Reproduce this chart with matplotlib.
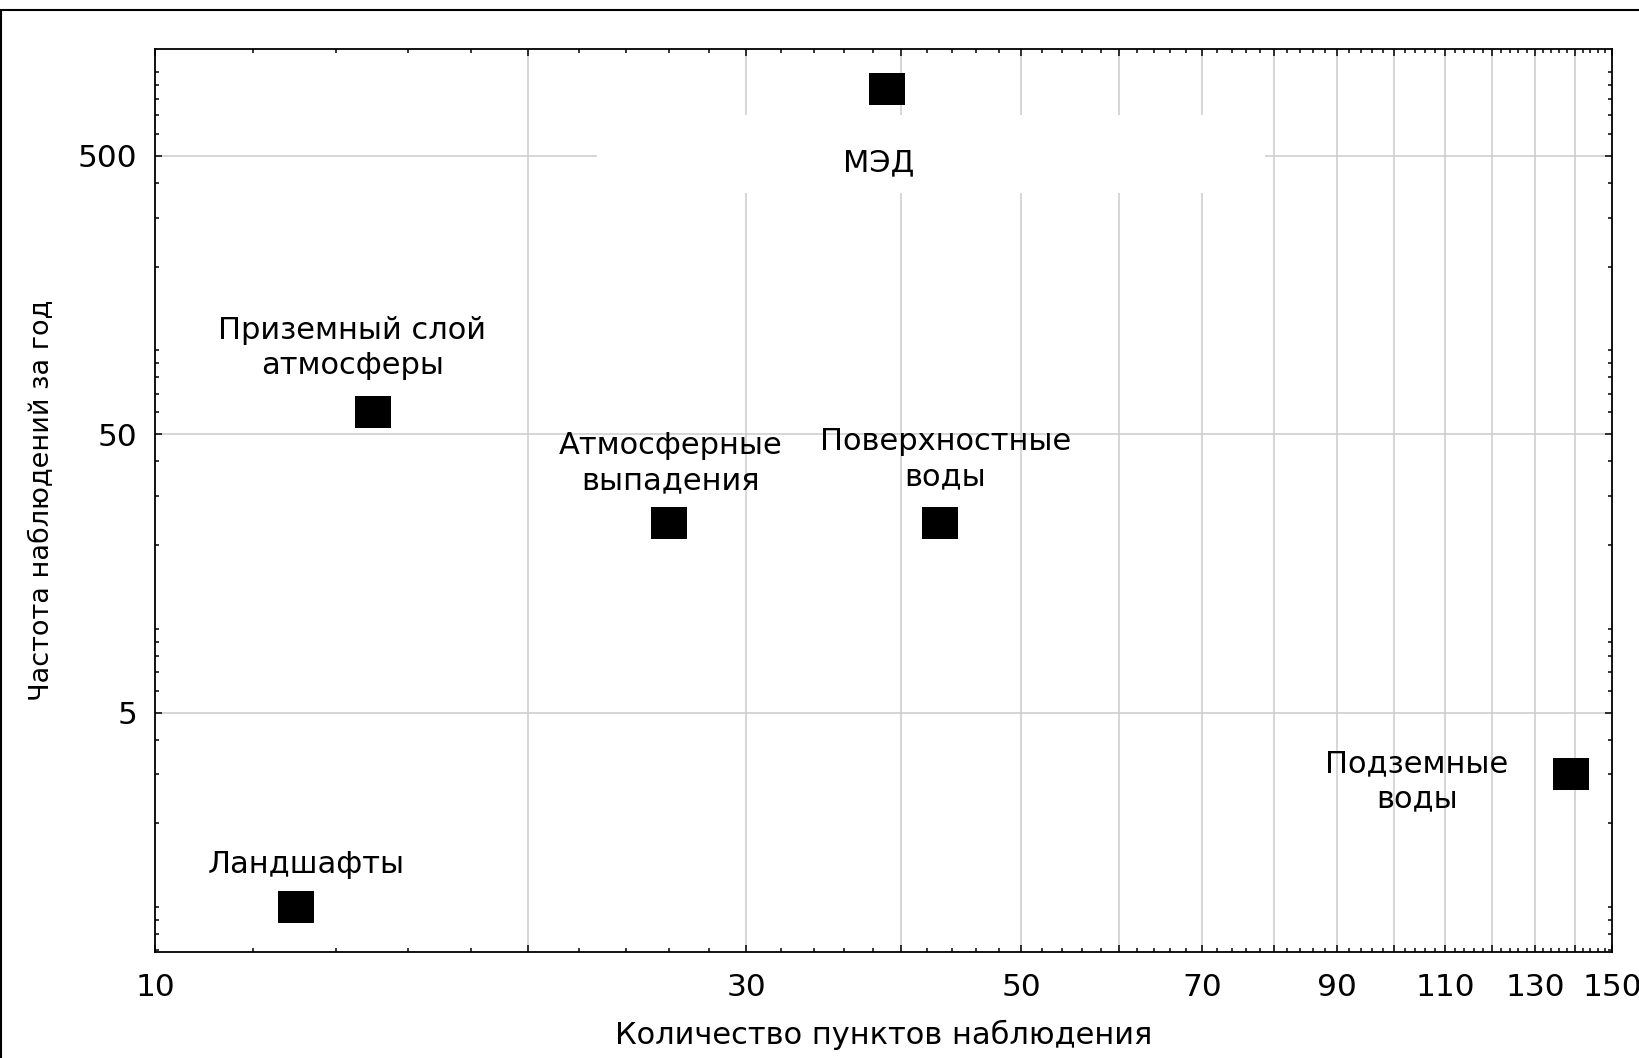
import numpy as np
import matplotlib.pyplot as plt
from matplotlib.patches import Rectangle
from matplotlib.ticker import FixedLocator, FuncFormatter, LogLocator, NullFormatter

plt.rcParams['font.family'] = ['DejaVu Sans']

# data
names = ['Ландшафты', 'Приземный слой\nатмосферы', 'Атмосферные\nвыпадения',
         'Поверхностные\nводы', 'МЭД', 'Подземные\nводы']
n_points = [13, 15, 26, 43, 39, 139]        # количество пунктов
freq = [1.0, 60, 24, 24, 870, 3.0]          # частота за год

x_major = [10, 20, 30, 40, 50, 60, 70, 80, 90, 100, 110, 120, 130, 140, 150]
x_labeled = [10, 30, 50, 70, 90, 110, 130, 150]
x_minor = list(range(10, 151, 2))
y_major = [5, 50, 500]

# label offsets (points) relative to each marker
offsets = [(7, 31), (-15, 46), (1, 43), (4, 46), (-6, -53), (-111, -5)]

fig = plt.figure(figsize=(16.39, 10.58), dpi=100)
ax = fig.add_axes([0.0946, 0.1002, 0.8890, 0.8535])

ax.set_xscale('log')
ax.set_yscale('log')
ax.set_xlim(10, 150)
ax.set_ylim(0.69, 1210)

# grid
for v in x_major[1:-1]:
    ax.axvline(v, color='#cccccc', lw=1.1, zorder=0.5)
for v in y_major:
    ax.axhline(v, color='#cccccc', lw=1.1, zorder=0.5)

# white box behind the МЭД label
ax.add_patch(Rectangle((0.303, 0.840), 0.459, 0.087, transform=ax.transAxes,
                       facecolor='white', edgecolor='none', zorder=1))

rect = [(-1, -0.857), (1, -0.857), (1, 0.857), (-1, 0.857), (-1, -0.857)]
ax.plot(n_points, freq, ls='none', marker=rect, markersize=26.5, color='black',
        markeredgewidth=0, zorder=3, clip_on=False)

for name, x, y, off in zip(names, n_points, freq, offsets):
    ax.annotate(name, (x, y), xytext=off, textcoords='offset points',
                ha='center', va='center', multialignment='center',
                fontsize=22, linespacing=1.25, zorder=4)

# ticks
ax.xaxis.set_major_locator(FixedLocator(x_major))
ax.xaxis.set_minor_locator(FixedLocator(x_minor))
ax.xaxis.set_major_formatter(FuncFormatter(lambda v, p: f'{v:g}' if round(v) in x_labeled else ''))
ax.xaxis.set_minor_formatter(NullFormatter())
ax.yaxis.set_major_locator(FixedLocator(y_major))
ax.yaxis.set_minor_locator(LogLocator(base=10, subs=np.arange(1, 10), numticks=20))
ax.yaxis.set_major_formatter(FuncFormatter(lambda v, p: f'{v:g}'))
ax.yaxis.set_minor_formatter(NullFormatter())

ax.tick_params(which='both', direction='in', top=True, right=True, color='black',
               labelsize=22.5, width=1.1)
ax.tick_params(which='major', length=5, pad=13)
ax.tick_params(which='minor', length=3)
ax.tick_params(axis='x', which='major', pad=15)

for s in ax.spines.values():
    s.set_color('black')
    s.set_linewidth(1.3)

ax.set_xlabel('Количество пунктов наблюдения', fontsize=22, labelpad=13)
ax.set_ylabel('Частота наблюдений за год', fontsize=19.5, labelpad=16)

# outer frame (top and left edges visible)
fig.add_artist(Rectangle((0.0008, -0.2), 2, 0.2 + 0.9905, transform=fig.transFigure,
                         fill=False, edgecolor='black', lw=1.5, clip_on=False))

plt.savefig('out.png', dpi=100)
